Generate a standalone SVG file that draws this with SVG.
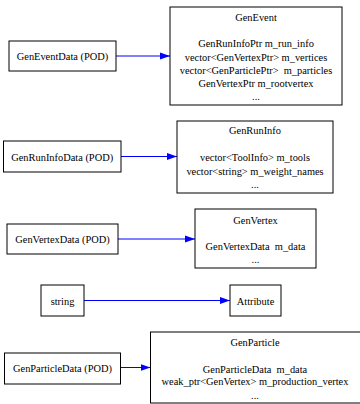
<svg xmlns="http://www.w3.org/2000/svg" width="360" height="404" viewBox="0 0 360 404" font-family="'Liberation Serif', 'Times New Roman', serif" font-size="10.4">
<style>
rect.n{fill:#fff;stroke:#000;stroke-width:1}
text{font-family:'Liberation Serif','Times New Roman',Times,serif;font-size:10.4px;fill:#000;text-anchor:middle}
.e{stroke:#0000ff;stroke-width:1;fill:none}
</style>
<defs>
<marker id="ah" markerWidth="10" markerHeight="8" refX="10" refY="4" orient="auto" markerUnits="userSpaceOnUse">
<path d="M0,0.5 L10,4 L0,7.5 Z" fill="#0000ff"/>
</marker>
</defs>
<rect width="360" height="404" fill="#fff"/>
<g id="edges">
<line class="e" x1="116" y1="56" x2="170" y2="56" marker-end="url(#ah)"/>
<line class="e" x1="121" y1="156.5" x2="177" y2="156.5" marker-end="url(#ah)"/>
<line class="e" x1="118" y1="239" x2="195" y2="239" marker-end="url(#ah)"/>
<line class="e" x1="84" y1="300.5" x2="230" y2="300.5" marker-end="url(#ah)"/>
<line class="e" x1="120.5" y1="367.5" x2="150.5" y2="367.5" marker-end="url(#ah)"/>
</g>
<g id="GenEventData">
<rect class="n" x="9" y="41" width="107" height="30"/>
<text x="62.5" y="60">GenEventData (POD)</text>
</g>
<g id="GenEvent">
<rect class="n" x="170" y="7" width="172" height="98"/>
<text x="256" y="20.5">GenEvent</text>
<text x="256" y="47">GenRunInfoPtr m_run_info</text>
<text x="256" y="60.5">vector&lt;GenVertexPtr&gt; m_vertices</text>
<text x="256" y="74">vector&lt;GenParticlePtr&gt;&#160; m_particles</text>
<text x="256" y="86.5">GenVertexPtr m_rootvertex</text>
<text x="256" y="100">...</text>
</g>
<g id="GenRunInfoData">
<rect class="n" x="3.5" y="141" width="117.5" height="31"/>
<text x="62.2" y="160.5">GenRunInfoData (POD)</text>
</g>
<g id="GenRunInfo">
<rect class="n" x="177" y="121" width="156" height="72"/>
<text x="255" y="134">GenRunInfo</text>
<text x="255" y="161">vector&lt;ToolInfo&gt; m_tools</text>
<text x="255" y="174.5">vector&lt;string&gt; m_weight_names</text>
<text x="255" y="188">...</text>
</g>
<g id="GenVertexData">
<rect class="n" x="7" y="224" width="111" height="30"/>
<text x="62.5" y="243">GenVertexData (POD)</text>
</g>
<g id="GenVertex">
<rect class="n" x="195" y="209" width="121" height="59"/>
<text x="255.5" y="223.5">GenVertex</text>
<text x="255.5" y="249.5">GenVertexData&#160; m_data</text>
<text x="255.5" y="263">...</text>
</g>
<g id="string">
<rect class="n" x="41" y="285" width="43" height="31"/>
<text x="62.5" y="304.5">string</text>
</g>
<g id="Attribute">
<rect class="n" x="230" y="285" width="51" height="31"/>
<text x="255.5" y="304.5">Attribute</text>
</g>
<g id="GenParticleData">
<rect class="n" x="4.5" y="353" width="116" height="31"/>
<text x="62.5" y="372">GenParticleData (POD)</text>
</g>
<g id="GenParticle">
<rect class="n" x="150.5" y="332" width="210" height="71"/>
<text x="255" y="345.5">GenParticle</text>
<text x="255" y="372.5">GenParticleData&#160; m_data</text>
<text x="255" y="385">weak_ptr&lt;GenVertex&gt; m_production_vertex</text>
<text x="255" y="398.5">...</text>
</g>
</svg>
